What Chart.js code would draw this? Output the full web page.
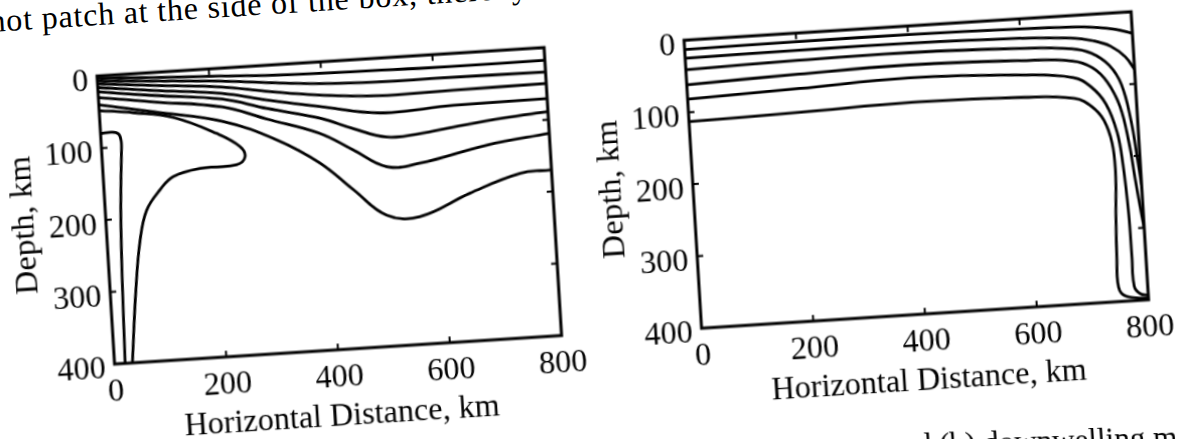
<!DOCTYPE html>
<html>
<head>
<meta charset="utf-8">
<script src="https://cdn.jsdelivr.net/npm/chart.js"></script>
<style>
  html, body { margin: 0; padding: 0; background: #fff; }
  body { width: 1177px; height: 439px; overflow: hidden; position: relative; font-family: "Liberation Serif", serif; color: #000; }
  .panel { position: absolute; left: 0; top: 0; transform-origin: 0 0; }
  .scrap { position: absolute; left: 0; top: 0; transform-origin: 0 0; white-space: nowrap; }
  #topText { font-size: 32px; line-height: 32px; letter-spacing: 0.8px; transform: matrix(1, -0.0638, 0.0608, 1, -11.6, 5); }
  #bottomText { font-size: 31px; line-height: 31px; transform: matrix(1, -0.03, 0.0608, 1, 886, 430.2); }
</style>
</head>
<body>
<div class="scrap" id="topText">hot patch at the side of the box, thereby</div>
<div class="panel" id="panelA"><canvas id="chartA" width="597" height="410"></canvas></div>
<div class="panel" id="panelB"><canvas id="chartB" width="597" height="410"></canvas></div>
<div class="scrap" id="bottomText">and (b) downwelling model</div>
<script>
// axis ticks
const xTicks = [0, 200, 400, 600, 800];
const depthTicks = [0, 100, 200, 300, 400];

// panel (a): contours as [distance km, depth km]
const aLine1 = [[0, 3], [100, 7], [220, 11], [300, 14], [395, 16], [510, 17], [630, 18], [800, 17.5]];
const aLine2 = [[0, 7], [100, 12], [220, 18], [300, 24], [395, 30], [500, 33], [605, 33], [800, 34]];
const aLine3 = [[0, 11], [100, 18], [220, 26], [300, 36], [395, 46], [500, 52], [634, 51], [800, 50]];
const aLine4 = [[0, 16], [100, 25], [220, 35], [300, 48], [395, 62], [500, 76], [632, 72], [800, 71]];
const aLine5 = [[0, 22], [100, 32], [220, 43], [300, 60], [393, 78], [450, 95], [510, 110], [570, 108], [630, 102], [720, 94], [800, 89]];
const aLine6 = [[0, 30], [100, 41], [220, 54], [300, 75], [391, 99], [449, 125], [507, 151], [566, 149], [687, 130], [800, 119]];
const aLine7 = [[0, 40], [100, 55], [220, 74], [313, 104], [388, 140], [445, 180], [501, 218], [560, 223], [652, 195], [744, 172], [800, 170]];
const aLobe = [[0, 48], [61, 54], [131, 64], [207, 90], [247, 110], [255, 125], [239, 135], [174, 137], [125, 146], [100, 163], [74, 190], [59, 231], [46, 300], [32, 400]];
const aSlot = [[0, 80], [20, 79], [32, 82], [36, 92], [35, 110], [31, 150], [27, 200], [23, 280], [19, 400]];

// panel (b): contours as [distance km, depth km]
const bLine1 = [[0, 13], [200, 12], [400, 12], [600, 14], [690, 16], [740, 19], [770, 23], [800, 30]];
const bLine2 = [[0, 25], [200, 24], [400, 24], [600, 27], [690, 31], [730, 37], [760, 46], [785, 62], [800, 80]];
const bLine3 = [[0, 41], [200, 38], [400, 37], [600, 41], [690, 46], [725, 54], [755, 72], [775, 100], [788, 150], [795, 200], [800, 240]];
const bLine4 = [[0, 62], [200, 57], [400, 54], [600, 58], [690, 63], [725, 74], [750, 95], [770, 130], [782, 180], [789, 230], [795, 270], [800, 300]];
const bLine5 = [[0, 82], [200, 77], [400, 72], [600, 78], [690, 86], [720, 100], [745, 125], [762, 165], [769, 210], [774, 280], [775, 340], [776, 380], [786, 391], [800, 394]];
const bLine6 = [[0, 113], [200, 110], [400, 106], [600, 109], [690, 115], [720, 128], [740, 148], [752, 180], [755, 220], [751, 280], [748, 340], [748, 380], [760, 393], [800, 398]];

const serif = 'Liberation Serif';
const toPts = arr => arr.map(([x, y]) => ({ x, y }));

// box round the plot area and short inward ticks on all four sides
const frame = {
  id: 'frame',
  afterDatasetsDraw(chart) {
    const { ctx, chartArea: ca, scales: { x, y } } = chart;
    const len = 6;
    ctx.save();
    ctx.strokeStyle = '#000';
    ctx.lineWidth = 3;
    ctx.strokeRect(ca.left, ca.top, ca.right - ca.left, ca.bottom - ca.top);
    ctx.lineWidth = 2;
    ctx.beginPath();
    x.ticks.forEach(t => {
      const px = x.getPixelForValue(t.value);
      ctx.moveTo(px, ca.bottom); ctx.lineTo(px, ca.bottom - len);
      ctx.moveTo(px, ca.top); ctx.lineTo(px, ca.top + len);
    });
    y.ticks.forEach(t => {
      const py = y.getPixelForValue(t.value);
      ctx.moveTo(ca.left, py); ctx.lineTo(ca.left + len, py);
      ctx.moveTo(ca.right, py); ctx.lineTo(ca.right - len, py);
    });
    ctx.stroke();
    ctx.restore();
  }
};

function makeOptions() {
  return {
    responsive: false,
    animation: false,
    layout: { padding: { left: 10, right: 30, top: 22, bottom: 10 } },
    plugins: { legend: { display: false }, tooltip: { enabled: false } },
    elements: {
      point: { radius: 0 },
      line: { borderColor: '#000', borderWidth: 2.8, tension: 0.4, fill: false }
    },
    scales: {
      x: {
        type: 'linear', min: 0, max: 800,
        afterBuildTicks: s => { s.ticks = xTicks.map(v => ({ value: v })); },
        afterFit: s => { s.height = 90; },
        grid: { display: false, drawTicks: false },
        border: { display: false },
        ticks: { color: '#000', padding: 8, maxRotation: 0, autoSkip: false, font: { family: serif, size: 32 } },
        title: { display: true, text: 'Horizontal Distance, km', color: '#000', font: { family: serif, size: 32 }, padding: { top: 0, bottom: 5 } }
      },
      y: {
        type: 'linear', min: 0, max: 400, reverse: true,
        afterBuildTicks: s => { s.ticks = depthTicks.map(v => ({ value: v })); },
        afterFit: s => { s.width = 110; },
        grid: { display: false, drawTicks: false },
        border: { display: false },
        ticks: { color: '#000', padding: 9, labelOffset: 5, autoSkip: false, font: { family: serif, size: 32 } },
        title: { display: true, text: 'Depth, km', color: '#000', font: { family: serif, size: 32 }, padding: { top: 10, bottom: 0 } }
      }
    }
  };
}

function makeChart(id, lines) {
  return new Chart(document.getElementById(id), {
    type: 'scatter',
    data: { datasets: lines.map(l => ({ data: toPts(l), showLine: true })) },
    options: makeOptions(),
    plugins: [frame]
  });
}

// the scan is slightly sheared; map the plot area onto it
function place(chart, panel, x0, y0) {
  const ca = chart.chartArea;
  const w = ca.right - ca.left, h = ca.bottom - ca.top;
  const a = 447 / w, b = -28.5 / w, c = 17.5 / h, d = 288 / h;
  const e = x0 - (a * ca.left + c * ca.top);
  const f = y0 - (b * ca.left + d * ca.top);
  panel.style.transform = `matrix(${a},${b},${c},${d},${e},${f})`;
}

const chartA = makeChart('chartA', [aLine1, aLine2, aLine3, aLine4, aLine5, aLine6, aLine7, aLobe, aSlot]);
const chartB = makeChart('chartB', [bLine1, bLine2, bLine3, bLine4, bLine5, bLine6]);
place(chartA, document.getElementById('panelA'), 97, 76);
place(chartB, document.getElementById('panelB'), 684, 40.2);
</script>
</body>
</html>
